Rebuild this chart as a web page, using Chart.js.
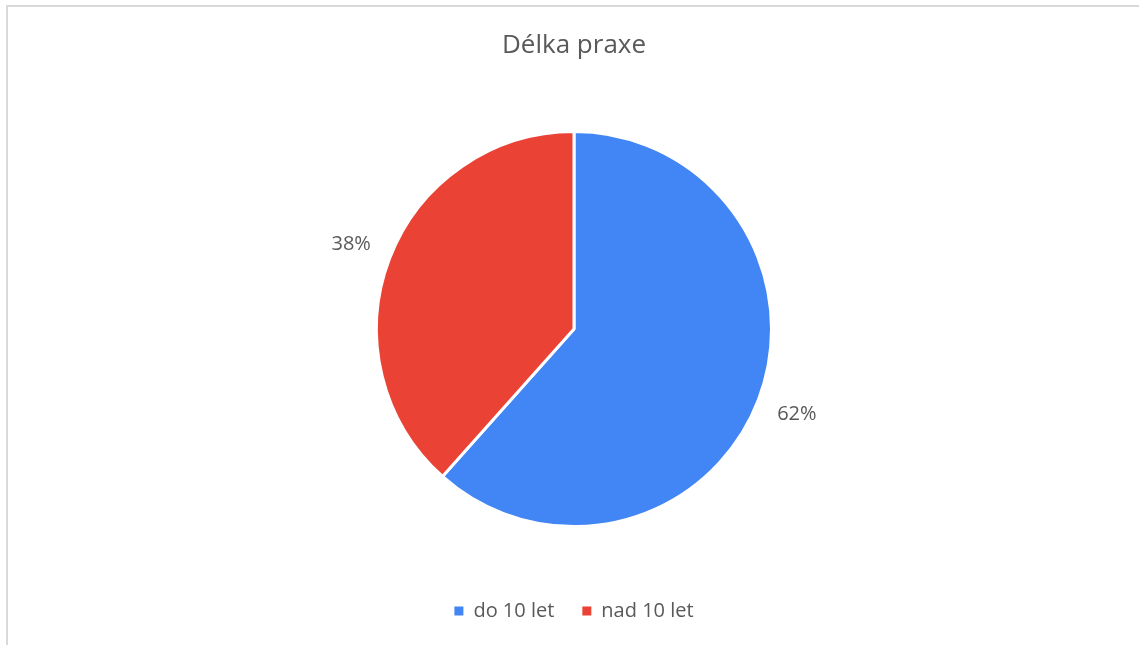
<!DOCTYPE html>
<html>
<head>
<meta charset="utf-8">
<script src="https://cdn.jsdelivr.net/npm/chart.js@4/dist/chart.umd.min.js"></script>
<style>
  html,body{ margin:0; padding:0; background:#fff; overflow:hidden; }
  #wrap{ position:relative; width:1139px; height:645px; }
  #frame{ position:absolute; left:6px; top:5px; right:-10px; bottom:-10px; border:2px solid #d9d9d9; }
  canvas{ position:absolute; left:0; top:0; }
</style>
</head>
<body>
<div id="wrap">
  <div id="frame"></div>
  <canvas id="pie" width="1139" height="645"></canvas>
</div>
<script>
const chartTitle = "Délka praxe";
const categories = ["do 10 let", "nad 10 let"];
const shares = [61.6, 38.4];
const sliceColors = ["#4285F4", "#EA4335"];

const textColor = "#595959";
const fontFamily = "'Open Sans', 'Liberation Sans', sans-serif";

// percentage labels outside each slice
const outsideLabels = {
  id: "outsideLabels",
  afterDatasetsDraw(chart){
    const ctx = chart.ctx;
    const meta = chart.getDatasetMeta(0);
    const data = chart.data.datasets[0].data;
    const total = data.reduce((s,v)=>s+v, 0);
    ctx.save();
    ctx.font = "20px " + fontFamily;
    ctx.fillStyle = textColor;
    ctx.textAlign = "center";
    ctx.textBaseline = "middle";
    meta.data.forEach((arc, i)=>{
      const p = arc.getProps(["x","y","startAngle","endAngle","outerRadius"], true);
      const mid = (p.startAngle + p.endAngle) / 2;
      const d = p.outerRadius + 41;
      const txt = Math.round(data[i] / total * 100) + "%";
      ctx.fillText(txt, p.x + Math.cos(mid)*d, p.y + Math.sin(mid)*d);
    });
    ctx.restore();
  }
};

new Chart(document.getElementById("pie"), {
  type: "pie",
  data: {
    labels: categories,
    datasets: [{
      data: shares,
      backgroundColor: sliceColors,
      borderColor: "#ffffff",
      borderWidth: 3,
      hoverOffset: 0
    }]
  },
  options: {
    responsive: false,
    animation: false,
    radius: 197.5,
    layout: { padding: { left: 9, right: 0, top: 0, bottom: 14 } },
    plugins: {
      title: {
        display: true,
        text: chartTitle,
        color: textColor,
        font: { family: fontFamily, size: 26, weight: "normal" },
        padding: { top: 30, bottom: 24 }
      },
      legend: {
        position: "bottom",
        labels: {
          color: textColor,
          font: { family: fontFamily, size: 20 },
          boxWidth: 9,
          boxHeight: 9,
          padding: 28,
          generateLabels(chart){
            const items = Chart.controllers.pie.overrides.plugins.legend.labels.generateLabels(chart);
            items.forEach(it=>{ it.lineWidth = 0; });
            return items;
          }
        }
      },
      tooltip: { enabled: false }
    }
  },
  plugins: [outsideLabels]
});
</script>
</body>
</html>
